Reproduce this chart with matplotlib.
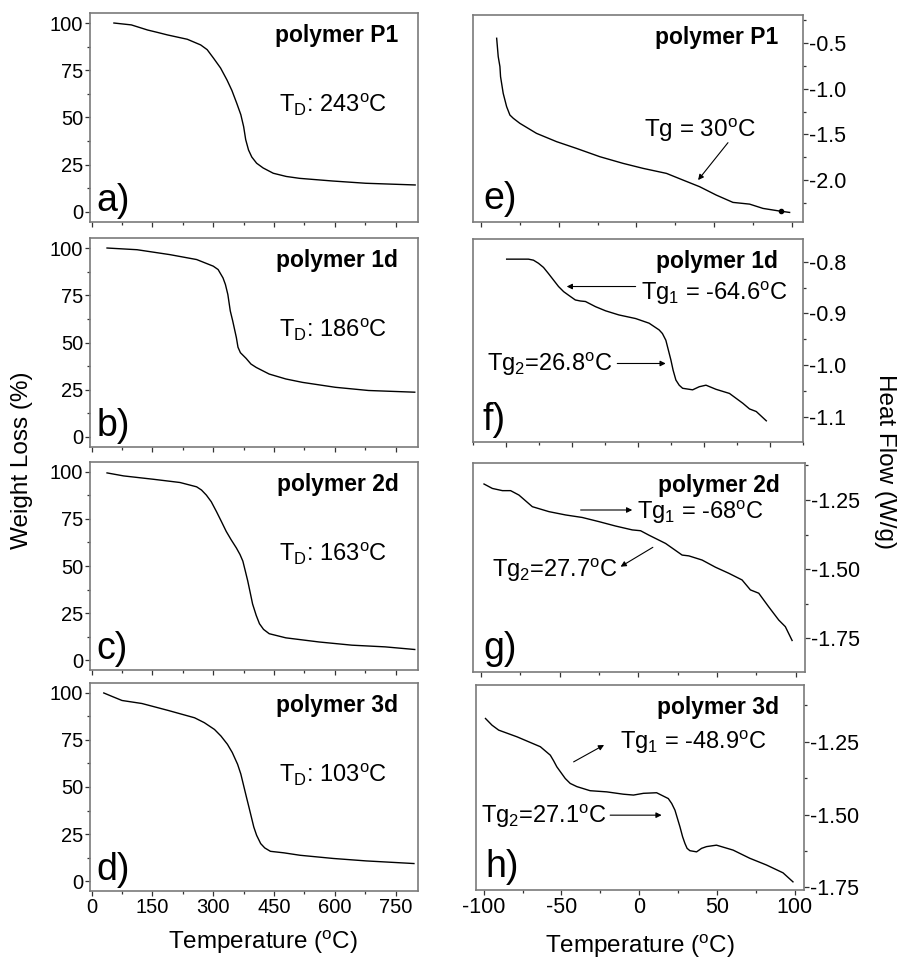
import matplotlib
matplotlib.use('Agg')
import matplotlib.pyplot as plt
from matplotlib.ticker import FixedLocator, MultipleLocator, FormatStrFormatter

plt.rcParams['font.family'] = ['Liberation Sans', 'DejaVu Sans']
plt.rcParams['mathtext.fontset'] = 'custom'
plt.rcParams['mathtext.rm'] = 'Liberation Sans'
plt.rcParams['mathtext.it'] = 'Liberation Sans:italic'
plt.rcParams['mathtext.bf'] = 'Liberation Sans:bold'
plt.rcParams['axes.unicode_minus'] = False

# ---- TGA (left column) ----
tga_names = ['polymer P1', 'polymer 1d', 'polymer 2d', 'polymer 3d']
tga_td = [243, 186, 163, 103]
tga_letters = ['a)', 'b)', 'c)', 'd)']

p1_tga_T = [55, 98, 138, 163, 187, 236, 269, 285, 301, 318, 334, 346, 358, 368, 375, 380, 387, 395, 407,
            423, 448, 480, 513, 594, 676, 798]
p1_tga_W = [100, 99, 96.3, 95, 93.7, 91.4, 88.4, 85.9, 81.3, 76.2, 69.8, 64.3, 57.5, 51.5, 45.1, 38.3, 32.8,
            29.1, 25.8, 23.3, 20.5, 18.8, 17.8, 16.4, 15.2, 14.3]

d1_tga_T = [38, 112, 193, 259, 300, 312, 324, 330, 336, 342, 348, 357, 361, 367, 381, 393, 406, 438, 479,
            520, 601, 683, 797]
d1_tga_W = [100, 99.1, 96.5, 93.9, 90.4, 88.6, 84.2, 80.7, 75.4, 66.7, 61.4, 52.6, 47.5, 44.6, 41.6, 38.6,
            36.8, 33.3, 30.7, 28.9, 26.3, 24.6, 23.7]

d2_tga_T = [38, 79, 153, 218, 259, 271, 283, 295, 308, 320, 332, 344, 357, 366, 373, 379, 385, 391, 397,
            406, 414, 424, 438, 479, 561, 642, 724, 797]
d2_tga_W = [99.5, 97.9, 96.1, 94.4, 92.1, 90.4, 87.7, 84.2, 78.9, 73.7, 68.4, 64.0, 59.6, 56.1, 52.6, 47.4,
            42.1, 36.0, 29.8, 23.7, 19.3, 16.3, 14.0, 11.8, 9.6, 7.9, 7.0, 5.6]

d3_tga_T = [30, 50, 75, 124, 189, 254, 278, 303, 319, 335, 347, 360, 368, 376, 382, 388, 394, 400, 407,
            417, 427, 441, 474, 514, 596, 677, 795]
d3_tga_W = [100, 98.2, 96, 94.4, 90.7, 86.8, 84.2, 80.6, 77.1, 72.7, 68.3, 62.1, 56.9, 49.8, 44.5, 39.3,
            34.0, 28.7, 24.3, 19.9, 17.6, 15.8, 15.0, 13.7, 12.0, 10.7, 9.3]

tga_T = [p1_tga_T, d1_tga_T, d2_tga_T, d3_tga_T]
tga_W = [p1_tga_W, d1_tga_W, d2_tga_W, d3_tga_W]

# ---- DSC (right column) ----
dsc_letters = ['e)', 'f)', 'g)', 'h)']

p1_dsc_T = [-89.8, -88.8, -87.7, -87.3, -85.6, -83.4, -81.3, -79.1, -74.9, -64.2, -51.3, -38.5, -23.5,
            -8.6, 4.3, 19.3, 29.9, 40.6, 51.3, 62.0, 72.7, 81.3, 92.0, 98.4]
p1_dsc_H = [-0.445, -0.646, -0.756, -0.866, -1.049, -1.195, -1.287, -1.323, -1.378, -1.488, -1.579, -1.653,
            -1.744, -1.817, -1.872, -1.927, -2.0, -2.073, -2.165, -2.245, -2.264, -2.311, -2.340, -2.355]

d1_dsc_T = [-99.5, -83, -79.2, -75.4, -71.6, -67.8, -60.2, -56.3, -52.5, -47.5, -43.7, -39.8, -32.2, -24.6,
            -14.5, -1.8, 8.4, 16, 18.5, 21.1, 24.9, 26.6, 28.7, 31.2, 33.8, 41.4, 46.4, 51.5, 59.1, 69.3,
            79.4, 84.5, 89.6, 97.2]
d1_dsc_H = [-0.795, -0.795, -0.797, -0.803, -0.811, -0.823, -0.848, -0.858, -0.865, -0.874, -0.876, -0.877,
            -0.887, -0.895, -0.903, -0.910, -0.919, -0.932, -0.939, -0.952, -0.990, -1.010, -1.029, -1.039,
            -1.045, -1.048, -1.042, -1.039, -1.047, -1.055, -1.074, -1.085, -1.090, -1.108]

d2_dsc_T = [-98, -92.7, -86.3, -81.1, -75.8, -67.3, -56.7, -46.1, -35.6, -25, -14.4, -3.8, 1.5, 6.8, 17.4,
            27.9, 32.2, 40.6, 49.1, 57.6, 66, 71.3, 76.6, 82.9, 89.3, 93.5, 97.8]
d2_dsc_H = [-1.192, -1.208, -1.216, -1.216, -1.232, -1.274, -1.292, -1.304, -1.313, -1.328, -1.344, -1.358,
            -1.361, -1.377, -1.407, -1.449, -1.452, -1.467, -1.493, -1.515, -1.539, -1.575, -1.587, -1.636,
            -1.684, -1.708, -1.758]

d3_dsc_T = [-98.9, -94.7, -90.4, -78.6, -63.6, -57.2, -55.1, -53, -47.6, -44.4, -40.1, -31.6, -20.9, -10.2,
            -3.7, 2.7, 11.2, 18.7, 20.9, 23, 26.2, 27.9, 29.4, 30.8, 32.6, 36.9, 40.1, 43.3, 49.7, 60.4,
            71.1, 81.8, 92.5, 98.9]
d3_dsc_H = [-1.170, -1.193, -1.210, -1.233, -1.267, -1.296, -1.315, -1.336, -1.376, -1.393, -1.404, -1.418,
            -1.422, -1.430, -1.433, -1.427, -1.425, -1.445, -1.462, -1.485, -1.542, -1.576, -1.599, -1.616,
            -1.624, -1.628, -1.616, -1.610, -1.605, -1.622, -1.650, -1.673, -1.700, -1.731]

dsc_T = [p1_dsc_T, d1_dsc_T, d2_dsc_T, d3_dsc_T]
dsc_H = [p1_dsc_H, d1_dsc_H, d2_dsc_H, d3_dsc_H]

dsc_yticks = [[-0.5, -1.0, -1.5, -2.0], [-0.8, -0.9, -1.0, -1.1],
              [-1.25, -1.50, -1.75], [-1.25, -1.50, -1.75]]
dsc_minor = [0.25, 0.05, 0.125, 0.125]
dsc_fmt = ['%.1f', '%.1f', '%.2f', '%.2f']
dsc_ylim = [(-2.46, -0.19), (-1.149, -0.756), (-1.872, -1.116), (-1.759, -1.055)]
dsc_xlim = [(-105, 107), (-125, 125), (-105, 106), (-105, 106)]

W, H = 898, 959
fig = plt.figure(figsize=(W / 100, H / 100), dpi=100)


def box(x0, y0, x1, y1):
    return [x0 / W, 1 - y1 / H, (x1 - x0) / W, (y1 - y0) / H]


left_boxes = [(90, 13, 418, 222), (90, 238, 418, 447), (90, 462, 418, 670), (90, 683, 418, 891)]
right_boxes = [(473, 15, 803, 222), (473, 239, 803, 442), (473, 463, 805, 672), (476, 685, 804, 890)]

spine_col = '#7a7a7a'


def style(ax):
    for s in ax.spines.values():
        s.set_color(spine_col)
        s.set_linewidth(1.2)
    ax.tick_params(which='both', direction='out', colors='#333333', labelcolor='black', width=0.9)
    ax.tick_params(which='major', length=3.5, pad=1.5)
    ax.tick_params(which='minor', length=2)


# left column
for i in range(4):
    ax = fig.add_axes(box(*left_boxes[i]))
    ax.plot(tga_T[i], tga_W[i], color='black', lw=1.0)
    ax.set_xlim(-4, 805)
    ax.set_ylim(-5.3, 105.3)
    ax.xaxis.set_major_locator(MultipleLocator(150))
    ax.xaxis.set_minor_locator(MultipleLocator(75))
    ax.yaxis.set_major_locator(MultipleLocator(25))
    ax.yaxis.set_minor_locator(MultipleLocator(12.5))
    style(ax)
    ax.tick_params(labelsize=14.5)
    if i < 3:
        ax.tick_params(labelbottom=False)
    ax.text(0.94, 0.89, tga_names[i], transform=ax.transAxes, ha='right', va='center',
            fontsize=16.5, fontweight='bold')
    ax.text(0.74, 0.56, r'T$_\mathrm{D}$: ' + str(tga_td[i]) + r'$^\mathrm{o}$C',
            transform=ax.transAxes, ha='center', va='center', fontsize=17)
    ax.text(0.02, 0.1, tga_letters[i], transform=ax.transAxes, ha='left', va='center', fontsize=27)
    if i == 3:
        ax.set_xlabel(r'Temperature ($^\mathrm{o}$C)', fontsize=17.5)
        ax.xaxis.set_label_coords(0.527, -0.18)

fig.text(22 / W, 1 - 460 / H, 'Weight Loss (%)', rotation=90, ha='center', va='center', fontsize=17.5)

# right column
arrow = dict(arrowstyle='-|>', color='black', lw=0.8, mutation_scale=8, shrinkA=0, shrinkB=0)
rax = []
for i in range(4):
    ax = fig.add_axes(box(*right_boxes[i]))
    ax.plot(dsc_T[i], dsc_H[i], color='black', lw=1.0)
    ax.set_xlim(*dsc_xlim[i])
    ax.set_ylim(*dsc_ylim[i])
    ax.xaxis.set_major_locator(MultipleLocator(50))
    ax.xaxis.set_minor_locator(MultipleLocator(25))
    ax.yaxis.set_major_locator(FixedLocator(dsc_yticks[i]))
    ax.yaxis.set_minor_locator(MultipleLocator(dsc_minor[i]))
    ax.yaxis.set_major_formatter(FormatStrFormatter(dsc_fmt[i]))
    ax.yaxis.tick_right()
    style(ax)
    ax.tick_params(labelsize=15.5)
    ax.tick_params(axis='y', pad=0.5)
    if i < 3:
        ax.tick_params(labelbottom=False)
    ax.text(0.925, 0.89, tga_names[i], transform=ax.transAxes, ha='right', va='center',
            fontsize=16.5, fontweight='bold')
    ax.text(0.03, 0.11, dsc_letters[i], transform=ax.transAxes, ha='left', va='center', fontsize=27)
    rax.append(ax)

rax[3].set_xlabel(r'Temperature ($^\mathrm{o}$C)', fontsize=17.5)
rax[3].xaxis.set_label_coords(0.5, -0.21)

fs = 17
# e) annotation
ax = rax[0]
ax.plot([p1_dsc_T[-2] + 0.6], [p1_dsc_H[-2]], 'o', color='black', ms=3)
ax.text(40.6, -1.451, r'Tg = 30$^\mathrm{o}$C', ha='center', va='center', fontsize=17.5)
ax.annotate('', xy=(39.6, -2.0), xytext=(58.8, -1.59), arrowprops=arrow)

# f) annotations
ax = rax[1]
ax.text(2, -0.861, r'Tg$_1$ = -64.6$^\mathrm{o}$C', ha='left', va='center', fontsize=fs)
ax.annotate('', xy=(-54, -0.848), xytext=(-1.8, -0.848), arrowprops=arrow)
ax.text(-114.7, -0.999, r'Tg$_2$=26.8$^\mathrm{o}$C', ha='left', va='center', fontsize=fs)
ax.annotate('', xy=(21, -0.997), xytext=(-15.7, -0.997), arrowprops=arrow)

# g) annotations
ax = rax[2]
ax.text(-0.6, -1.295, r'Tg$_1$ = -68$^\mathrm{o}$C', ha='left', va='center', fontsize=fs)
ax.annotate('', xy=(-3.8, -1.286), xytext=(-36.6, -1.286), arrowprops=arrow)
ax.text(-92.7, -1.506, r'Tg$_2$=27.7$^\mathrm{o}$C', ha='left', va='center', fontsize=fs)
ax.annotate('', xy=(-11.2, -1.491), xytext=(9.3, -1.421), arrowprops=arrow)

# h) annotations
ax = rax[3]
ax.text(-12.3, -1.253, r'Tg$_1$ = -48.9$^\mathrm{o}$C', ha='left', va='center', fontsize=fs)
ax.annotate('', xy=(-22.6, -1.261), xytext=(-42.2, -1.319), arrowprops=arrow)
ax.text(-102.1, -1.505, r'Tg$_2$=27.1$^\mathrm{o}$C', ha='left', va='center', fontsize=fs)
ax.annotate('', xy=(14.4, -1.502), xytext=(-18.7, -1.502), arrowprops=arrow)

fig.text(885 / W, 1 - 462 / H, 'Heat Flow (W/g)', rotation=-90, ha='center', va='center', fontsize=17.5)

fig.savefig('out.png', dpi=100)
